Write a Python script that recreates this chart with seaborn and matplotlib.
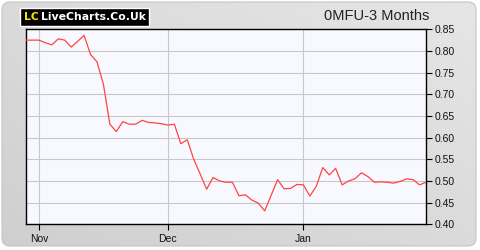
import numpy as np
import pandas as pd
import matplotlib
matplotlib.use("Agg")
import matplotlib.pyplot as plt
import seaborn as sns
from matplotlib.patches import FancyBboxPatch

# ---- data (trading-day index vs price) ----
prices = [0.825, 0.825, 0.825, 0.819, 0.814, 0.828, 0.825, 0.809, 0.822, 0.836,
          0.792, 0.775, 0.723, 0.631, 0.614, 0.637, 0.631, 0.631, 0.640, 0.635,
          0.634, 0.632, 0.629, 0.631, 0.586, 0.595, 0.550, 0.516, 0.481, 0.508,
          0.500, 0.497, 0.497, 0.466, 0.468, 0.456, 0.449, 0.431, 0.467, 0.503,
          0.482, 0.483, 0.492, 0.491, 0.465, 0.488, 0.531, 0.514, 0.529, 0.491,
          0.500, 0.505, 0.519, 0.510, 0.497, 0.498, 0.497, 0.495, 0.499, 0.505,
          0.503, 0.491, 0.497]
day_index = list(range(len(prices)))
month_tick_pos = [2, 22, 43]
month_tick_labels = ["Nov", "Dec", "Jan"]
y_ticks = [0.40, 0.45, 0.50, 0.55, 0.60, 0.65, 0.70, 0.75, 0.80, 0.85]
title = "0MFU-3 Months"

df = pd.DataFrame({"day": day_index, "price": prices})

sns.set_theme(style="white")
plt.rcParams['font.family'] = ['Liberation Sans', 'DejaVu Sans']

fig = plt.figure(figsize=(4.8, 2.5), dpi=100)
fig.patch.set_facecolor("white")

# background panel with gradient and rounded corners
bg = fig.add_axes([0, 0, 1, 1])
bg.set_axis_off()
bg.set_xlim(0, 480)
bg.set_ylim(250, 0)
gx, gy = np.meshgrid(np.linspace(0, 1, 200), np.linspace(0, 1, 100))
grad = 0.5 * gx + 0.5 * (1 - gy)
im = bg.imshow(grad, extent=[0, 480, 250, 0], cmap=matplotlib.colors.LinearSegmentedColormap.from_list(
    "g", ["#cfcfcf", "#e6e6e6"]), aspect="auto", zorder=0)
panel = FancyBboxPatch((2, 2), 474, 244, boxstyle="round,pad=0,rounding_size=8",
                       transform=bg.transData, facecolor="none", edgecolor="#c4c4c4", lw=0.8, zorder=1)
bg.add_patch(panel)
im.set_clip_path(panel)

# logo
bg.add_patch(plt.Rectangle((20, 8), 129, 17.5, facecolor="black", zorder=2))
bg.text(24, 17, "LC", color="#f2e600", fontsize=7.8, fontweight="bold", va="center", ha="left",
        family=["DejaVu Sans"], zorder=3)
bg.text(41, 17, "LiveCharts.Co.Uk", color="white", fontsize=7.8, fontweight="bold", va="center",
        ha="left", family=["DejaVu Sans"], zorder=3)
bg.text(377, 16.5, title, color="#222222", fontsize=10.5, va="center", ha="center", zorder=3)

ax = fig.add_axes([26 / 480, 1 - 224.3 / 250, 400 / 480, (224.3 - 29.3) / 250])
ax.set_facecolor("#f8f9ff")
sns.lineplot(data=df, x="day", y="price", ax=ax, color="#ff4444", linewidth=0.9, zorder=3)

ax.set_xlim(0, len(prices) - 1)
ax.set_ylim(0.40, 0.85)
ax.set_xticks(month_tick_pos)
ax.set_xticklabels(month_tick_labels)
ax.set_yticks(y_ticks)
ax.set_yticklabels([f"{v:.2f}" for v in y_ticks])
ax.yaxis.tick_right()
ax.set_xlabel("")
ax.set_ylabel("")
ax.grid(True, color="#c8c8c8", linewidth=0.8)
ax.set_axisbelow(True)
for s in ax.spines.values():
    s.set_visible(True)
    s.set_color("black")
    s.set_linewidth(1.0)
ax.tick_params(axis="both", which="both", length=4, width=0.8, color="black",
               labelsize=7.5, labelcolor="#111111", pad=2)
ax.tick_params(axis="y", right=True, left=False, labelright=True, labelleft=False)
ax.tick_params(axis="x", bottom=True, pad=3)

fig.savefig("out.png", dpi=100, facecolor=fig.get_facecolor())
